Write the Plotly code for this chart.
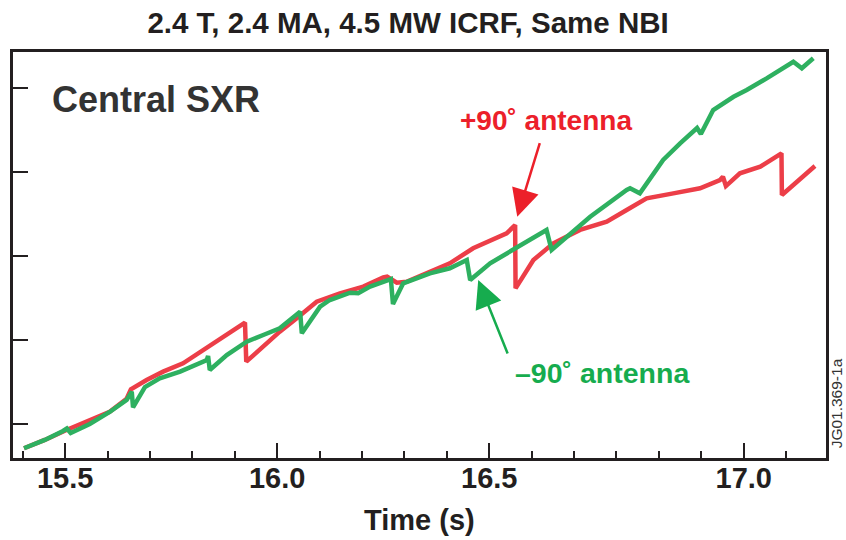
import plotly.graph_objects as go

# ---- data ----
red_time = [15.403, 15.452, 15.503, 15.558, 15.605, 15.645, 15.655, 15.692, 15.731, 15.778,
            15.826, 15.881, 15.924, 15.927, 15.967, 16.006, 16.046, 16.093, 16.148, 16.203,
            16.250, 16.259, 16.282, 16.305, 16.360, 16.407, 16.462, 16.541, 16.561, 16.562,
            16.604, 16.651, 16.714, 16.777, 16.824, 16.871, 16.934, 16.997, 17.044, 17.051,
            17.058, 17.091, 17.139, 17.189, 17.190, 17.233, 17.268]
red_sxr = [-0.289, -0.190, -0.071, 0.048, 0.146, 0.300, 0.413, 0.524, 0.623, 0.723,
           0.881, 1.060, 1.206, 0.742, 0.920, 1.099, 1.258, 1.456, 1.556, 1.635,
           1.746, 1.754, 1.682, 1.694, 1.813, 1.913, 2.092, 2.270, 2.369, 1.615,
           1.952, 2.151, 2.310, 2.408, 2.548, 2.687, 2.746, 2.806, 2.905, 2.944,
           2.833, 2.984, 3.063, 3.223, 2.726, 2.925, 3.071]

green_time = [15.403, 15.452, 15.495, 15.504, 15.513, 15.558, 15.605, 15.645, 15.657, 15.660,
              15.688, 15.723, 15.771, 15.834, 15.837, 15.841, 15.881, 15.928, 15.967, 16.006,
              16.054, 16.058, 16.101, 16.124, 16.172, 16.191, 16.219, 16.268, 16.273, 16.297,
              16.360, 16.407, 16.447, 16.455, 16.502, 16.580, 16.635, 16.647, 16.683, 16.738,
              16.824, 16.832, 16.855, 16.887, 16.910, 16.950, 16.990, 16.999, 17.028, 17.076,
              17.107, 17.154, 17.217, 17.237, 17.264]
green_sxr = [-0.289, -0.190, -0.083, -0.054, -0.107, 0.000, 0.143, 0.286, 0.385, 0.199,
             0.440, 0.544, 0.623, 0.762, 0.810, 0.643, 0.821, 0.980, 1.060, 1.139,
             1.337, 1.080, 1.396, 1.476, 1.563, 1.556, 1.635, 1.726, 1.429, 1.675,
             1.794, 1.854, 1.952, 1.714, 1.913, 2.151, 2.310, 2.071, 2.230, 2.468,
             2.786, 2.806, 2.746, 2.984, 3.143, 3.342, 3.524, 3.452, 3.738, 3.896,
             3.976, 4.115, 4.313, 4.235, 4.354]

x_tick_vals = [15.5, 16.0, 16.5, 17.1]
x_tick_text = ["15.5", "16.0", "16.5", "17.0"]
y_tick_vals = [0, 1, 2, 3, 4]

title_text = "2.4 T, 2.4 MA, 4.5 MW ICRF, Same NBI"
panel_label = "Central SXR"
red_label = "+90˚ antenna"
green_label = "–90˚ antenna"
x_label = "Time (s)"
figure_id = "JG01.369-1a"

RED = "rgb(236,32,42)"
GREEN = "rgb(22,172,78)"
RED_LINE = "rgb(236,62,72)"
GREEN_LINE = "rgb(46,176,96)"
DARK = "#231f20"
FONT = "Liberation Sans, Arial, Helvetica, sans-serif"

fig = go.Figure()
fig.add_trace(go.Scatter(x=red_time, y=red_sxr, mode="lines",
                         line=dict(color=RED_LINE, width=4.5), showlegend=False))
fig.add_trace(go.Scatter(x=green_time, y=green_sxr, mode="lines",
                         line=dict(color=GREEN_LINE, width=4.5), showlegend=False))

fig.update_layout(
    width=846, height=540,
    margin=dict(l=13, r=20, t=52, b=82),
    paper_bgcolor="white", plot_bgcolor="white",
    font=dict(family=FONT, color=DARK),
    title=dict(text="<b>" + title_text + "</b>", x=0.4859, xref="paper", xanchor="center",
               y=1 - 23 / 540, yref="container", yanchor="middle",
               font=dict(size=29.5, color=DARK, family=FONT)),
    xaxis=dict(range=[15.377, 17.294], showgrid=False, zeroline=False,
               showline=True, linecolor=DARK, linewidth=2.5, mirror=True,
               tickmode="array", tickvals=x_tick_vals, ticktext=x_tick_text,
               ticks="inside", ticklen=15, tickwidth=1.5, tickcolor=DARK,
               ticklabelstandoff=-8,
               tickfont=dict(size=29, color=DARK, family=FONT, weight="bold"),
               minor=dict(tickmode="linear", tick0=15.5, dtick=0.1, ticks="inside",
                          ticklen=7, tickwidth=1.5, tickcolor=DARK, showgrid=False)),
    yaxis=dict(range=[-0.405, 4.429], showgrid=False, zeroline=False,
               showline=True, linecolor=DARK, linewidth=2.5, mirror=True,
               tickmode="array", tickvals=y_tick_vals, showticklabels=False,
               ticks="inside", ticklen=15, tickwidth=1.5, tickcolor=DARK),
)

annotations = [
    dict(text="<b>" + panel_label + "</b>", xref="paper", yref="paper", x=0.1759, y=0.8818,
         xanchor="center", yanchor="middle", showarrow=False,
         font=dict(size=36, color="#333333", family=FONT)),
    dict(text="<b>" + red_label + "</b>", xref="paper", yref="paper", x=0.6556, y=0.8325,
         xanchor="center", yanchor="middle", showarrow=False,
         font=dict(size=28, color=RED, family=FONT)),
    dict(text="<b>" + green_label + "</b>", xref="paper", yref="paper", x=0.7245, y=0.2094,
         xanchor="center", yanchor="middle", showarrow=False,
         font=dict(size=28.5, color=GREEN, family=FONT)),
    dict(text="<b>" + x_label + "</b>", xref="paper", yref="paper", x=0.5006, y=-0.1527,
         xanchor="center", yanchor="middle", showarrow=False,
         font=dict(size=29, color=DARK, family=FONT)),
    dict(text=figure_id, xref="paper", yref="paper", x=1.0125, y=0.135,
         xanchor="center", yanchor="middle", showarrow=False, textangle=-90,
         font=dict(size=15.5, color="#333333", family=FONT)),
    # arrows pointing at the curves
    dict(text="", x=16.566, y=2.468, xref="x", yref="y", showarrow=True,
         ax=23, ay=-75, arrowhead=2, arrowsize=2.2, arrowwidth=2.5, arrowcolor=RED),
    dict(text="", x=16.474, y=1.714, xref="x", yref="y", showarrow=True,
         ax=30, ay=75, arrowhead=2, arrowsize=2.2, arrowwidth=2.5, arrowcolor=GREEN),
]
fig.update_layout(annotations=annotations)

fig.write_html("out.html")
